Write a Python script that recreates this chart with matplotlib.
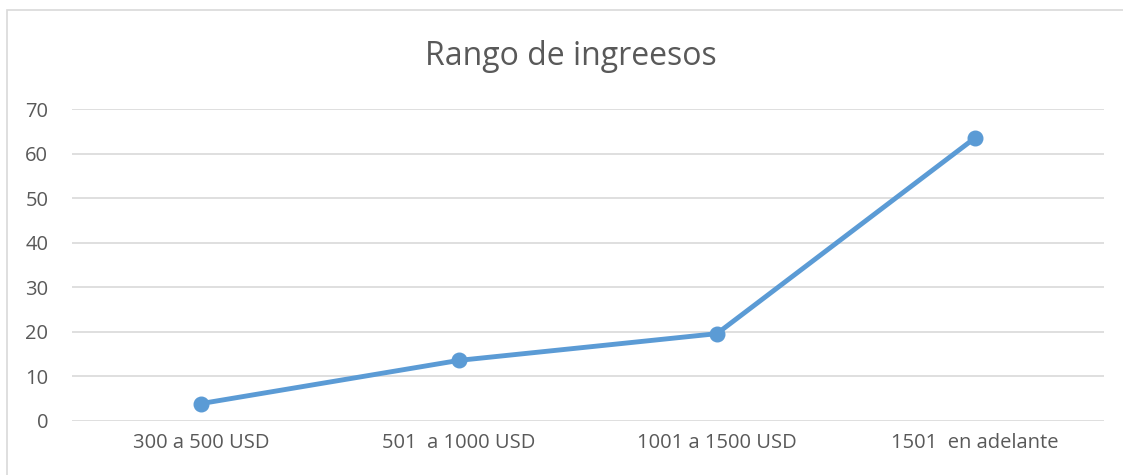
import matplotlib.pyplot as plt
from matplotlib.patches import Rectangle

# ======= data =======
categories = ["300 a 500 USD", "501  a 1000 USD", "1001 a 1500 USD", "1501  en adelante"]
values = [3.9, 13.6, 19.6, 63.5]
y_ticks = [0, 10, 20, 30, 40, 50, 60, 70]

plt.rcParams['font.family'] = ['Open Sans', 'DejaVu Sans']

fig = plt.figure(figsize=(11.23, 4.75), dpi=100)
ax = fig.add_axes([0.0641, 0.1137, 0.9189, 0.6568])

x = range(len(categories))
ax.plot(x, values, color='#5B9BD5', linewidth=3.5, marker='o', markersize=10.5,
        solid_capstyle='round', zorder=3)

ax.set_xlim(-0.5, len(categories) - 0.5)
ax.set_ylim(0, 70)
ax.set_yticks(y_ticks)
ax.set_xticks(list(x))
ax.set_xticklabels(categories)
ax.grid(axis='y', color='#D9D9D9', linewidth=1.2)
ax.set_axisbelow(True)
for s in ax.spines.values():
    s.set_visible(False)
ax.tick_params(length=0, labelsize=14.5, colors='#595959', pad=9)
ax.tick_params(axis='y', pad=17)

fig.text(0.508, 0.882, "Rango de ingreesos", ha='center', va='center',
         fontsize=23, color='#595959')

# chart frame
fig.patches.append(Rectangle((7 / 1123, -0.05), 1.2, 1 - 10 / 475 + 0.05,
                             transform=fig.transFigure, fill=False,
                             edgecolor='#D9D9D9', linewidth=1.2))

fig.savefig("out.png", dpi=100)
